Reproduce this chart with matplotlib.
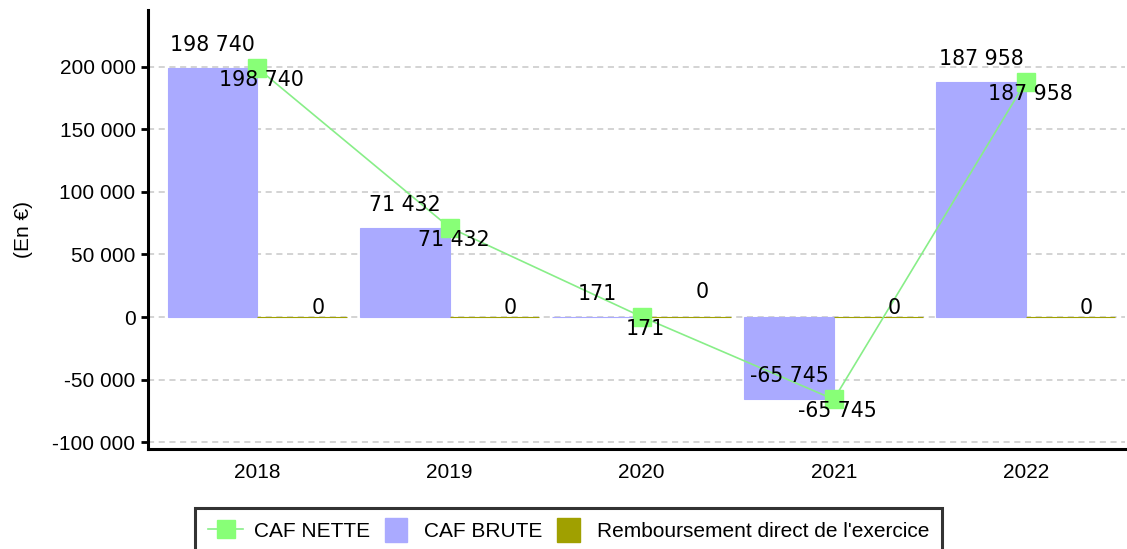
import matplotlib
matplotlib.use("Agg")
import matplotlib.pyplot as plt
from matplotlib.lines import Line2D
from matplotlib.patches import Patch, Rectangle
from matplotlib.legend_handler import HandlerPatch
import numpy as np

# ---- data ----
years = ["2018", "2019", "2020", "2021", "2022"]
caf_brute = [198740, 71432, 171, -65745, 187958]
remboursement = [0, 0, 0, 0, 0]
caf_nette = [198740, 71432, 171, -65745, 187958]
yticks = [-100000, -50000, 0, 50000, 100000, 150000, 200000]

# ---- style ----
BLUE = "#aaaaff"
OLIVE = "#a0a000"
GREEN = "#88ff77"
LINEGREEN = "#88ee88"
TICKFONT = "Liberation Sans"
LABELFONT = "DejaVu Sans"

fig = plt.figure(figsize=(11.27, 5.49), dpi=100)
ax = fig.add_axes([148/1127, 1-449/549, (1125-148)/1127, (449-10)/549])

x = np.arange(len(years))
w = 0.466

ax.bar(x - w/2, caf_brute, width=w, color=BLUE, edgecolor=BLUE, linewidth=0.8, zorder=2)
ax.bar(x + w/2, remboursement, width=w, color=OLIVE, edgecolor=OLIVE, linewidth=0.8, zorder=2)
ax.plot(x, caf_nette, color=LINEGREEN, linewidth=1.2, marker="s", markersize=13.2,
        markerfacecolor=GREEN, markeredgecolor=GREEN, zorder=4)

fmt = lambda v: f"{v:,.0f}".replace(",", " ")

# bar labels
for xi, v in zip(x, caf_brute):
    ax.annotate(fmt(v), (xi - w/2, v), xytext=(0, 23), textcoords="offset pixels",
                ha="center", va="center", fontsize=14.8, family=LABELFONT, zorder=5)
olive_dy = [9, 9, 25, 9, 9]
for xi, v, dy in zip(x, remboursement, olive_dy):
    ax.annotate(fmt(v), (xi + w/2, v), xytext=(16, dy), textcoords="offset pixels",
                ha="center", va="center", fontsize=14.8, family=LABELFONT, zorder=5)
# line labels
for xi, v in zip(x, caf_nette):
    ax.annotate(fmt(v), (xi, v), xytext=(4, -12), textcoords="offset pixels",
                ha="center", va="center", fontsize=14.8, family=LABELFONT, zorder=5)

ax.set_xlim(-0.57, 4.516)
ax.set_ylim(-105389, 245110)
ax.set_yticks(yticks)
ax.set_yticklabels([fmt(v) for v in yticks], fontsize=15, family=TICKFONT)
ax.set_xticks(x)
ax.set_xticklabels(years, fontsize=15, family=TICKFONT)
ax.tick_params(axis="x", length=0, pad=10)
ax.tick_params(axis="y", length=5, width=2, pad=4)
ax.yaxis.grid(True, color="#c8c8c8", linestyle=(0, (4, 3)), linewidth=1.1, zorder=0)
ax.set_axisbelow(True)
for s in ["top", "right"]:
    ax.spines[s].set_visible(False)
ax.spines["left"].set_linewidth(2.2)
ax.spines["bottom"].set_linewidth(2.2)
ax.set_ylabel("(En €)", fontsize=15, family=TICKFONT, labelpad=14)


def rect_patch(legend, orig_handle, xdescent, ydescent, width, height, fontsize):
    pw, ph = 16.0, 17.5
    return Rectangle((-xdescent + (width - pw)/2, -ydescent + (height - ph)/2), pw, ph)

handles = [
    Line2D([], [], color=LINEGREEN, linewidth=1.2, marker="s", markersize=13.2,
           markerfacecolor=GREEN, markeredgecolor=GREEN),
    Patch(facecolor=BLUE, edgecolor=BLUE),
    Patch(facecolor=OLIVE, edgecolor=OLIVE),
]
labels = ["CAF NETTE", "CAF BRUTE", "Remboursement direct de l'exercice"]
leg = fig.legend(handles, labels, loc="upper center", bbox_to_anchor=(568.5/1127, 1-508/549),
                 ncol=3, frameon=True, fancybox=False, prop={"family": TICKFONT, "size": 15},
                 handlelength=1.7, handleheight=1.0, handletextpad=0.5, columnspacing=0.4,
                 borderpad=0.6, borderaxespad=0,
                 handler_map={Patch: HandlerPatch(patch_func=rect_patch)})
leg.get_frame().set_edgecolor("black")
leg.get_frame().set_linewidth(2.2)

fig.savefig("out.png", dpi=100)
